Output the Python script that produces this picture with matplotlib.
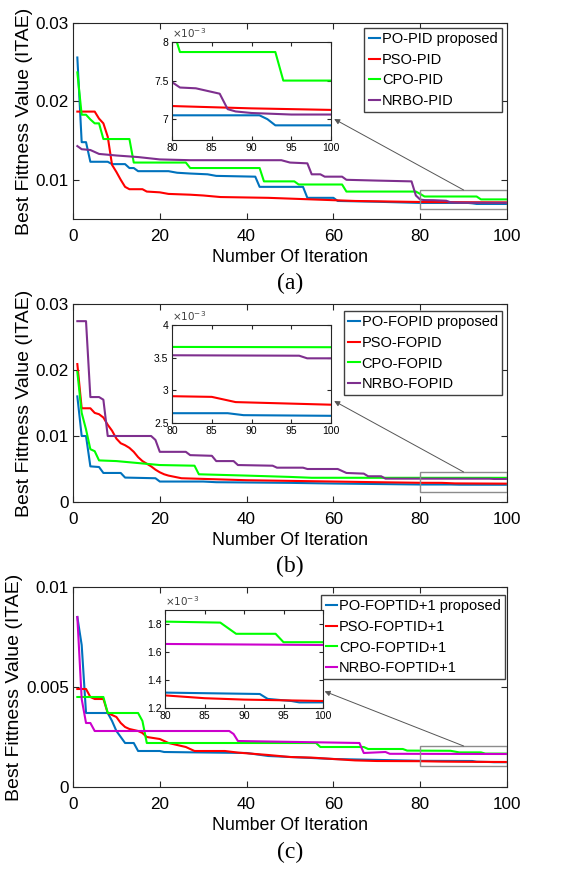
import matplotlib
matplotlib.use("Agg")
import matplotlib.pyplot as plt
from matplotlib.patches import Rectangle

plt.rcParams['font.family'] = ['Liberation Sans', 'DejaVu Sans']

W, H = 567, 869
DPI = 100

BLUE = '#0072BD'
RED = '#FF0000'
GREEN = '#00FF00'
PURPLE = '#7E2F8E'
MAGENTA = '#CC00CC'

# ---------------- Panel (a) data ----------------
a_labels = ['PO-PID proposed', 'PSO-PID', 'CPO-PID', 'NRBO-PID']
a_po_x = [1, 2, 3, 4, 8, 9, 12, 13, 14, 15, 22, 24, 27, 31, 33, 42, 43, 53, 54, 60, 61, 70, 80, 91, 92, 93, 100]
a_po_y = [0.0256, 0.0148, 0.0148, 0.0123, 0.0123, 0.0120, 0.0120, 0.0115, 0.0115, 0.0111, 0.0111, 0.0109,
          0.0108, 0.0107, 0.0105, 0.0104, 0.0091, 0.0091, 0.0077, 0.0077, 0.0073, 0.0072, 0.00705, 0.00705,
          0.0070, 0.00692, 0.00692]
a_pso_x = [1, 5, 6, 7, 8, 9, 10, 11, 12, 13, 16, 17, 20, 22, 27, 30, 34, 45, 50, 60, 65, 80, 90, 100]
a_pso_y = [0.0187, 0.0187, 0.0178, 0.0172, 0.0155, 0.0119, 0.0110, 0.0100, 0.0091, 0.0088, 0.0088, 0.0085,
           0.0084, 0.0082, 0.0081, 0.0080, 0.0078, 0.0077, 0.0076, 0.0074, 0.0073, 0.00717, 0.00714, 0.00712]
a_cpo_x = [1, 2, 3, 4, 5, 6, 7, 13, 14, 26, 27, 43, 44, 51, 52, 62, 63, 79, 80, 81, 93, 94, 100]
a_cpo_y = [0.0237, 0.0183, 0.0183, 0.0177, 0.0172, 0.0172, 0.0152, 0.0152, 0.0122, 0.0122, 0.0115, 0.0115,
           0.0098, 0.0098, 0.0094, 0.0094, 0.0085, 0.0085, 0.0082, 0.00787, 0.00787, 0.0075, 0.0075]
a_nrbo_x = [1, 2, 4, 6, 10, 15, 20, 27, 48, 50, 54, 55, 57, 58, 62, 63, 70, 78, 79, 80, 81, 83, 86, 87, 88,
            90, 95, 100]
a_nrbo_y = [0.0143, 0.0139, 0.0138, 0.0133, 0.0131, 0.0129, 0.0126, 0.0125, 0.0125, 0.0122, 0.0121, 0.0107,
            0.0107, 0.0104, 0.0104, 0.0100, 0.0099, 0.0098, 0.0080, 0.00748, 0.00741, 0.00740, 0.00733,
            0.00713, 0.00710, 0.00708, 0.00706, 0.00706]

# ---------------- Panel (b) data ----------------
b_labels = ['PO-FOPID proposed', 'PSO-FOPID', 'CPO-FOPID', 'NRBO-FOPID']
b_po_x = [1, 2, 3, 4, 6, 7, 11, 12, 19, 20, 30, 33, 50, 60, 80, 87, 89, 100]
b_po_y = [0.0160, 0.0100, 0.0100, 0.0054, 0.0053, 0.0044, 0.0044, 0.0037, 0.0036, 0.0031, 0.0031, 0.0030,
          0.0029, 0.0028, 0.00265, 0.00265, 0.00262, 0.00261]
b_pso_x = [1, 2, 4, 5, 6, 7, 8, 9, 10, 11, 12, 13, 14, 15, 16, 17, 18, 19, 20, 21, 22, 25, 30, 40, 50, 60,
           70, 80, 85, 88, 100]
b_pso_y = [0.0209, 0.0142, 0.0142, 0.0135, 0.0133, 0.0128, 0.0117, 0.0108, 0.0096, 0.0089, 0.0086, 0.0082,
           0.0076, 0.0068, 0.0062, 0.0058, 0.0054, 0.0049, 0.0045, 0.0042, 0.0040, 0.0036, 0.0035, 0.0033,
           0.0032, 0.0031, 0.0030, 0.00291, 0.00290, 0.00282, 0.00278]
b_cpo_x = [1, 2, 3, 4, 5, 6, 10, 15, 20, 28, 29, 40, 50, 55, 100]
b_cpo_y = [0.0197, 0.0135, 0.0110, 0.0080, 0.0077, 0.0063, 0.0062, 0.0059, 0.0056, 0.0055, 0.0042, 0.0040,
           0.0038, 0.00367, 0.00366]
b_nrbo_x = [1, 3, 4, 6, 7, 8, 18, 19, 20, 26, 27, 32, 33, 37, 38, 46, 47, 53, 54, 61, 63, 67, 68, 71, 72,
            96, 97, 100]
b_nrbo_y = [0.0274, 0.0274, 0.0159, 0.0159, 0.0155, 0.0100, 0.0100, 0.0094, 0.0076, 0.0076, 0.0071, 0.0070,
            0.0062, 0.0062, 0.0056, 0.0055, 0.0052, 0.0052, 0.0050, 0.0050, 0.0044, 0.0043, 0.0039, 0.0039,
            0.00354, 0.00353, 0.00349, 0.00349]

# ---------------- Panel (c) data ----------------
c_labels = ['PO-FOPTID+1 proposed', 'PSO-FOPTID+1', 'CPO-FOPTID+1', 'NRBO-FOPTID+1']
c_po_x = [1, 2, 3, 8, 9, 10, 11, 12, 14, 15, 20, 21, 40, 45, 50, 60, 80, 92, 93, 96, 97, 100]
c_po_y = [0.0085, 0.0071, 0.0037, 0.0037, 0.0033, 0.0028, 0.0025, 0.0022, 0.0022, 0.0018, 0.0018, 0.00175,
          0.00170, 0.00155, 0.0015, 0.0014, 0.00131, 0.00130, 0.001265, 0.00125, 0.00124, 0.00124]
c_pso_x = [1, 3, 4, 5, 7, 8, 9, 10, 11, 12, 13, 15, 16, 17, 20, 22, 26, 28, 35, 38, 45, 50, 55, 60, 65, 70,
           80, 85, 90, 95, 100]
c_pso_y = [0.0049, 0.0049, 0.0045, 0.0044, 0.0044, 0.0037, 0.0036, 0.0035, 0.0032, 0.0030, 0.0029, 0.0028,
           0.0027, 0.0025, 0.0024, 0.0022, 0.0020, 0.0018, 0.0018, 0.00172, 0.0016, 0.0015, 0.00147, 0.0014,
           0.00133, 0.00130, 0.00129, 0.00127, 0.00126, 0.001255, 0.00125]
c_cpo_x = [1, 7, 8, 15, 16, 17, 56, 57, 67, 68, 76, 77, 87, 89, 94, 95, 100]
c_cpo_y = [0.0045, 0.0045, 0.0037, 0.0037, 0.0033, 0.0022, 0.0022, 0.0020, 0.0020, 0.0019, 0.0019, 0.00182,
           0.00181, 0.00173, 0.00173, 0.00167, 0.00167]
c_nrbo_x = [1, 2, 3, 4, 5, 36, 37, 38, 66, 67, 72, 73, 100]
c_nrbo_y = [0.0085, 0.0044, 0.0032, 0.0032, 0.0028, 0.0028, 0.00265, 0.0023, 0.0022, 0.0017, 0.00175,
            0.00166, 0.00165]

xticks_main = [0, 20, 40, 60, 80, 100]
xticks_inset = [80, 85, 90, 95, 100]

fig = plt.figure(figsize=(W / DPI, H / DPI), dpi=DPI)


def rect_px(x0, y0, x1, y1):
    return [x0 / W, 1 - y1 / H, (x1 - x0) / W, (y1 - y0) / H]


def style(ax, fs):
    ax.tick_params(direction='in', top=True, right=True, labelsize=fs, length=4.5,
                   color='#262626', width=0.8)
    for s in ax.spines.values():
        s.set_color('#262626')
        s.set_linewidth(0.8)


def panel(main_box, ins_box, leg_box, series, labels, colors, ylim, yticks, yticklabels,
          iylim, iyticks, iyticklabels, rect_y, arrow_tail, arrow_head, caption, cap_y):
    ax = fig.add_axes(rect_px(*main_box))
    for (x, y), lab, c in zip(series, labels, colors):
        ax.plot(x, y, color=c, lw=1.5, label=lab)
    ax.set_xlim(0, 100)
    ax.set_ylim(*ylim)
    ax.set_xticks(xticks_main)
    ax.set_yticks(yticks)
    ax.set_yticklabels(yticklabels)
    style(ax, 12.3)
    ax.tick_params(axis='x', pad=7)
    ax.tick_params(axis='y', pad=3)
    ax.set_xlabel('Number Of Iteration', fontsize=12.8, labelpad=4)
    ax.set_ylabel('Best Fittness Value (ITAE)', fontsize=14, labelpad=2)
    ax.add_patch(Rectangle((80, rect_y[0]), 20, rect_y[1] - rect_y[0], fill=False,
                           ec='#8c8c8c', lw=1.0, zorder=5))
    leg = ax.legend(loc='upper right', bbox_to_anchor=(leg_box[1] / W, 1 - leg_box[2] / H),
                    bbox_transform=fig.transFigure, fontsize=10.5, handlelength=0.8,
                    handletextpad=0.1, labelspacing=0.45, borderpad=0.3, borderaxespad=0,
                    fancybox=False, framealpha=1, edgecolor='#404040')
    leg.get_frame().set_linewidth(1.0)

    ia = fig.add_axes(rect_px(*ins_box))
    for (x, y), c in zip(series, colors):
        ia.plot(x, y, color=c, lw=1.5)
    ia.set_xlim(80, 100)
    ia.set_ylim(*iylim)
    ia.set_xticks(xticks_inset)
    ia.set_yticks(iyticks)
    ia.set_yticklabels(iyticklabels)
    style(ia, 7.5)
    ia.tick_params(length=3, pad=2.5)
    ia.text(0.0, 1.02, r'$\times10^{-3}$', transform=ia.transAxes, fontsize=7.5,
            ha='left', va='bottom', color='#404040')

    ax.annotate('', xy=arrow_head, xycoords=ia.transAxes, xytext=arrow_tail,
                textcoords=ax.transData,
                arrowprops=dict(arrowstyle='-|>', color='#555555', lw=0.7,
                                mutation_scale=8, shrinkA=0, shrinkB=0), zorder=6)
    fig.text(0.5 * (main_box[0] + main_box[2]) / W + 0.0, 1 - cap_y / H, caption,
             ha='center', va='center', fontsize=17, family='Liberation Serif')


cols_ab = [BLUE, RED, GREEN, PURPLE]
cols_c = [BLUE, RED, GREEN, MAGENTA]

panel((73, 23, 507, 219), (172, 42, 331, 140), (368, 502, 28),
      [(a_po_x, a_po_y), (a_pso_x, a_pso_y), (a_cpo_x, a_cpo_y), (a_nrbo_x, a_nrbo_y)],
      a_labels, cols_ab, (0.005, 0.03), [0.01, 0.02, 0.03], ['0.01', '0.02', '0.03'],
      (0.00673, 0.008), [0.007, 0.0075, 0.008], ['7', '7.5', '8'],
      (0.0063, 0.0087), (90, 0.0087), (1.02, 0.214), '(a)', 283)

panel((73, 304, 507, 502), (172, 325, 331, 423), (348, 502, 311),
      [(b_po_x, b_po_y), (b_pso_x, b_pso_y), (b_cpo_x, b_cpo_y), (b_nrbo_x, b_nrbo_y)],
      b_labels, cols_ab, (0, 0.03), [0, 0.01, 0.02, 0.03], ['0', '0.01', '0.02', '0.03'],
      (0.0025, 0.004), [0.0025, 0.003, 0.0035, 0.004], ['2.5', '3', '3.5', '4'],
      (0.0015, 0.00455), (90, 0.00455), (1.02, 0.224), '(b)', 566)

panel((73, 587, 507, 787), (165, 610, 323, 708), (325, 505, 595),
      [(c_po_x, c_po_y), (c_pso_x, c_pso_y), (c_cpo_x, c_cpo_y), (c_nrbo_x, c_nrbo_y)],
      c_labels, cols_c, (0, 0.01), [0, 0.005, 0.01], ['0', '0.005', '0.01'],
      (0.0012, 0.0019), [0.0012, 0.0014, 0.0016, 0.0018], ['1.2', '1.4', '1.6', '1.8'],
      (0.00105, 0.00205), (90, 0.00205), (1.01, 0.17), '(c)', 852)

fig.savefig('out.png', dpi=DPI)
